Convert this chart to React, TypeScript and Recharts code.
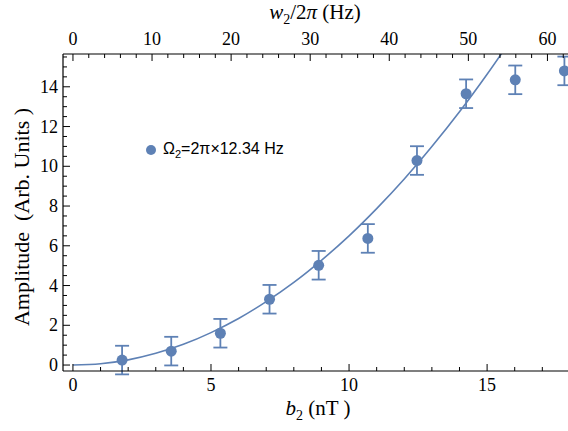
import React from "react";
import { ComposedChart, Line, Scatter, ErrorBar, XAxis, YAxis } from "recharts";

// measured points (b2 in nT, amplitude in arb. units, error)
const b2 = [1.78, 3.56, 5.34, 7.12, 8.9, 10.68, 12.46, 14.24, 16.02, 17.8];
const amplitude = [0.25, 0.7, 1.6, 3.31, 5.02, 6.37, 10.29, 13.65, 14.35, 14.8];
const amplitudeErr = [0.72, 0.72, 0.72, 0.72, 0.72, 0.72, 0.72, 0.72, 0.72, 0.72];

// fitted curve
const fitX = [0, 1, 2, 3, 4, 5, 6, 7, 8, 9, 10, 11, 12, 13, 14, 15, 16];
const fitY = [0, 0.065, 0.26, 0.59, 1.04, 1.63, 2.34, 3.19, 4.16, 5.27, 6.5, 7.87, 9.36, 10.99, 12.74, 14.63, 16.64];

// top axis (w2/2pi in Hz)
const hzTicks = [0, 2, 4, 6, 8, 10, 12, 14, 16, 18, 20, 22, 24, 26, 28, 30, 32, 34, 36, 38, 40, 42, 44, 46, 48, 50, 52, 54, 56, 58, 60, 62];
const hzMajor = [0, 10, 20, 30, 40, 50, 60];

const bottomTicks = [0, 1, 2, 3, 4, 5, 6, 7, 8, 9, 10, 11, 12, 13, 14, 15, 16, 17];
const bottomMajor = [0, 5, 10, 15];
const leftTicks = [0, 0.5, 1, 1.5, 2, 2.5, 3, 3.5, 4, 4.5, 5, 5.5, 6, 6.5, 7, 7.5, 8, 8.5, 9, 9.5, 10, 10.5, 11, 11.5, 12, 12.5, 13, 13.5, 14, 14.5, 15, 15.5];
const leftMajor = [0, 2, 4, 6, 8, 10, 12, 14];

const points = b2.map((x, i) => ({ x, y: amplitude[i], err: amplitudeErr[i] }));
const fit = fitX.map((x, i) => ({ x, y: fitY[i] }));
const hzData = hzMajor.map((hz) => ({ hz }));

const BLUE = "#5E81B5";
const SERIF = "'Liberation Serif', 'Times New Roman', serif";
const SANS = "'Liberation Sans', Arial, sans-serif";
const TICK_FONT = 18;

const bottomTick = (props: any) => {
    const { x, y, payload } = props;
    const major = bottomMajor.includes(payload.value);
    return (
        <g>
            <line x1={x} y1={y} x2={x} y2={y - (major ? 7 : 4)} stroke="#000" strokeWidth={1} />
            {major && <text x={x} y={y + 20} textAnchor="middle" fontFamily={SERIF} fontSize={TICK_FONT} fill="#000">{payload.value}</text>}
        </g>
    );
};

const topTick = (props: any) => {
    const { x, y, payload } = props;
    const major = hzMajor.includes(payload.value);
    return (
        <g>
            <line x1={x} y1={y} x2={x} y2={y + (major ? 7 : 4)} stroke="#000" strokeWidth={1} />
            {major && <text x={x} y={y - 9} textAnchor="middle" fontFamily={SERIF} fontSize={TICK_FONT} fill="#000">{payload.value}</text>}
        </g>
    );
};

const leftTick = (props: any) => {
    const { x, y, payload } = props;
    const major = leftMajor.includes(payload.value);
    return (
        <g>
            <line x1={x} y1={y} x2={x + (major ? 7 : 4)} y2={y} stroke="#000" strokeWidth={1} />
            {major && <text x={x - 5} y={y + 6} textAnchor="end" fontFamily={SERIF} fontSize={TICK_FONT} fill="#000">{payload.value}</text>}
        </g>
    );
};

const Dot = (props: any) => <circle cx={props.cx} cy={props.cy} r={5.5} fill={BLUE} />;

export default function App() {
    return (
        <div style={{ position: "absolute", left: 0, top: 0, width: 568, height: 431, background: "#fff", fontFamily: SERIF }}>
            <ComposedChart width={568} height={431} margin={{ top: 0, right: 0, bottom: 0, left: 0 }}>
                <XAxis xAxisId="b" dataKey="x" type="number" orientation="bottom" height={60}
                    domain={[-0.36, 17.93]} allowDataOverflow ticks={bottomTicks} interval={0}
                    tickSize={0} tickMargin={0} tickLine={false} tick={bottomTick}
                    axisLine={{ stroke: "#000", strokeWidth: 1.2 }} />
                <XAxis xAxisId="top" dataKey="hz" type="number" orientation="top" height={54}
                    domain={[-1.26, 62.6]} allowDataOverflow ticks={hzTicks} interval={0}
                    tickSize={0} tickMargin={0} tickLine={false} tick={topTick}
                    axisLine={{ stroke: "#000", strokeWidth: 1.2 }} />
                <YAxis yAxisId="a" type="number" width={63}
                    domain={[-0.3, 15.65]} allowDataOverflow ticks={leftTicks} interval={0}
                    tickSize={0} tickMargin={0} tickLine={false} tick={leftTick}
                    axisLine={{ stroke: "#000", strokeWidth: 1.2 }} />
                {/* invisible series so the Hz axis gets a scale */}
                <Line xAxisId="top" yAxisId="a" data={hzData} dataKey="none" stroke="none"
                    dot={false} activeDot={false} legendType="none" isAnimationActive={false} />
                <Line xAxisId="b" yAxisId="a" data={fit} dataKey="y" type="monotone" stroke={BLUE}
                    strokeWidth={1.6} dot={false} activeDot={false} isAnimationActive={false} />
                <Scatter xAxisId="b" yAxisId="a" data={points} dataKey="y" fill={BLUE} shape={<Dot />} isAnimationActive={false}>
                    <ErrorBar dataKey="err" direction="y" width={7} stroke={BLUE} strokeWidth={1.8} isAnimationActive={false} />
                </Scatter>
            </ComposedChart>
            <div style={{ position: "absolute", left: 0, width: 630, top: 0, textAlign: "center", fontFamily: SERIF, fontSize: 21 }}>
                <i>w</i><sub style={{ fontSize: 14 }}>2</sub>/2<i>π</i> (Hz)
            </div>
            <div style={{ position: "absolute", left: 0, width: 636, top: 396, textAlign: "center", fontFamily: SERIF, fontSize: 21 }}>
                <i>b</i><sub style={{ fontSize: 14 }}>2</sub> (nT )
            </div>
            <div style={{ position: "absolute", left: 22, top: 218, width: 0, height: 0 }}>
                <div style={{ position: "absolute", left: -150, top: -14, width: 300, textAlign: "center", transform: "rotate(-90deg)", fontFamily: SERIF, fontSize: 22, whiteSpace: "pre" }}>
                    {"Amplitude  (Arb. Units )"}
                </div>
            </div>
            <div style={{ position: "absolute", left: 146, top: 140, display: "flex", alignItems: "center", fontFamily: SANS, fontSize: 16 }}>
                <span style={{ width: 10, height: 10, borderRadius: "50%", background: BLUE, display: "inline-block", marginRight: 7 }} />
                <span>Ω<sub style={{ fontSize: 11 }}>2</sub>=2π×12.34 Hz</span>
            </div>
        </div>
    );
}
